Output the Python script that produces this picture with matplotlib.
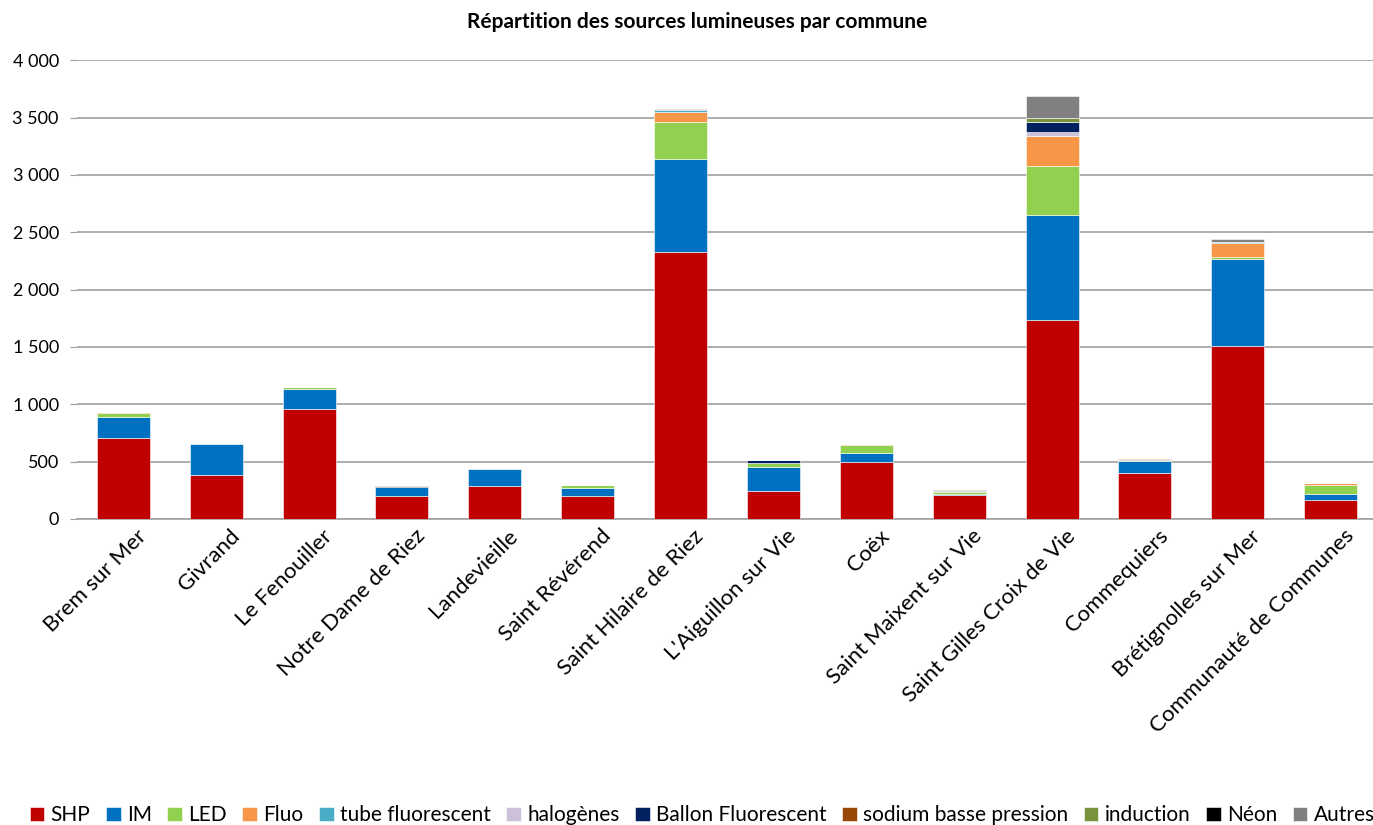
import numpy as np
import matplotlib.pyplot as plt
import matplotlib.transforms as mtransforms

plt.rcParams['font.family'] = ['Lato', 'DejaVu Sans']

communes = ['Brem sur Mer', 'Givrand', 'Le Fenouiller', 'Notre Dame de Riez',
            'Landevieille', 'Saint Révérend', 'Saint Hilaire de Riez',
            "L'Aiguillon sur Vie", 'Coëx', 'Saint Maixent sur Vie',
            'Saint Gilles Croix de Vie', 'Commequiers', 'Brétignolles sur Mer',
            'Communauté de Communes']

# nombre de sources par type, dans l'ordre des communes
shp = [703, 381, 956, 198, 290, 203, 2324, 244, 500, 209, 1734, 401, 1511, 168]
im = [185, 273, 177, 80, 143, 70, 819, 212, 75, 11, 918, 107, 758, 53]
led = [40, 0, 15, 0, 0, 20, 314, 30, 70, 18, 422, 0, 12, 78]
fluo = [5, 0, 0, 0, 0, 0, 90, 0, 10, 0, 264, 0, 124, 12]
tube = [0, 5, 0, 0, 10, 0, 17, 0, 0, 0, 0, 0, 12, 0]
halogenes = [0, 0, 0, 0, 0, 0, 0, 0, 0, 0, 37, 0, 0, 0]
ballon = [0, 0, 0, 0, 0, 0, 0, 26, 0, 0, 88, 0, 0, 0]
sodium = [0, 0, 0, 0, 0, 0, 0, 0, 0, 0, 0, 0, 0, 0]
induction = [0, 0, 0, 0, 0, 4, 0, 0, 0, 6, 32, 5, 0, 0]
neon = [0, 0, 0, 8, 0, 0, 0, 0, 0, 0, 0, 0, 0, 0]
autres = [0, 0, 0, 0, 0, 0, 12, 0, 0, 9, 197, 10, 23, 0]

series = [('SHP', shp, '#C00000'), ('IM', im, '#0070C0'), ('LED', led, '#92D050'),
          ('Fluo', fluo, '#F79646'), ('tube fluorescent', tube, '#4BACC6'),
          ('halogènes', halogenes, '#CCC0DA'), ('Ballon Fluorescent', ballon, '#002060'),
          ('sodium basse pression', sodium, '#984807'), ('induction', induction, '#77933C'),
          ('Néon', neon, '#000000'), ('Autres', autres, '#808080')]

fig = plt.figure(figsize=(13.73, 8.25), dpi=100)
ax = fig.add_axes([0.056, 0.371, 0.947, 0.556])

x = np.arange(len(communes))
bottom = np.zeros(len(communes))
for name, vals, col in series:
    vals = np.array(vals, dtype=float)
    ax.bar(x, vals, 0.57, bottom=bottom, color=col, label=name,
           edgecolor='white', linewidth=0.4, zorder=3)
    bottom += vals

ax.set_xlim(-0.5, len(communes) - 0.5)
ax.set_ylim(0, 4000)
ax.set_yticks(np.arange(0, 4001, 500))
ax.set_yticklabels([f'{v:,}'.replace(',', ' ') for v in range(0, 4001, 500)], fontsize=13)
ax.yaxis.grid(True, color='#A0A0A0', linewidth=1.2, zorder=0)
for s in ['top', 'right', 'left']:
    ax.spines[s].set_visible(False)
ax.spines['bottom'].set_color('#A0A0A0')
ax.spines['bottom'].set_linewidth(1.2)
ax.tick_params(axis='y', length=5, color='#A0A0A0', pad=8)
ax.tick_params(axis='x', length=0, pad=0)
ax.set_xticks(x)
ax.set_xticklabels(communes, rotation=45, ha='right', va='center',
                   rotation_mode='anchor', fontsize=16)
# décale les noms des communes vers la droite et le bas
shift = mtransforms.ScaledTranslation(20 / 100, -14 / 100, fig.dpi_scale_trans)
for lbl in ax.get_xticklabels():
    lbl.set_transform(lbl.get_transform() + shift)

fig.text(0.508, 0.973, 'Répartition des sources lumineuses par commune',
         ha='center', va='center', fontsize=15, fontweight='bold')

fig.legend(loc='center left', bbox_to_anchor=(0.008, 0.012), ncol=11, frameon=False,
           fontsize=15, handlelength=0.7, handleheight=0.7, handletextpad=0.3,
           columnspacing=0.75)

fig.savefig('out.png', dpi=100)
